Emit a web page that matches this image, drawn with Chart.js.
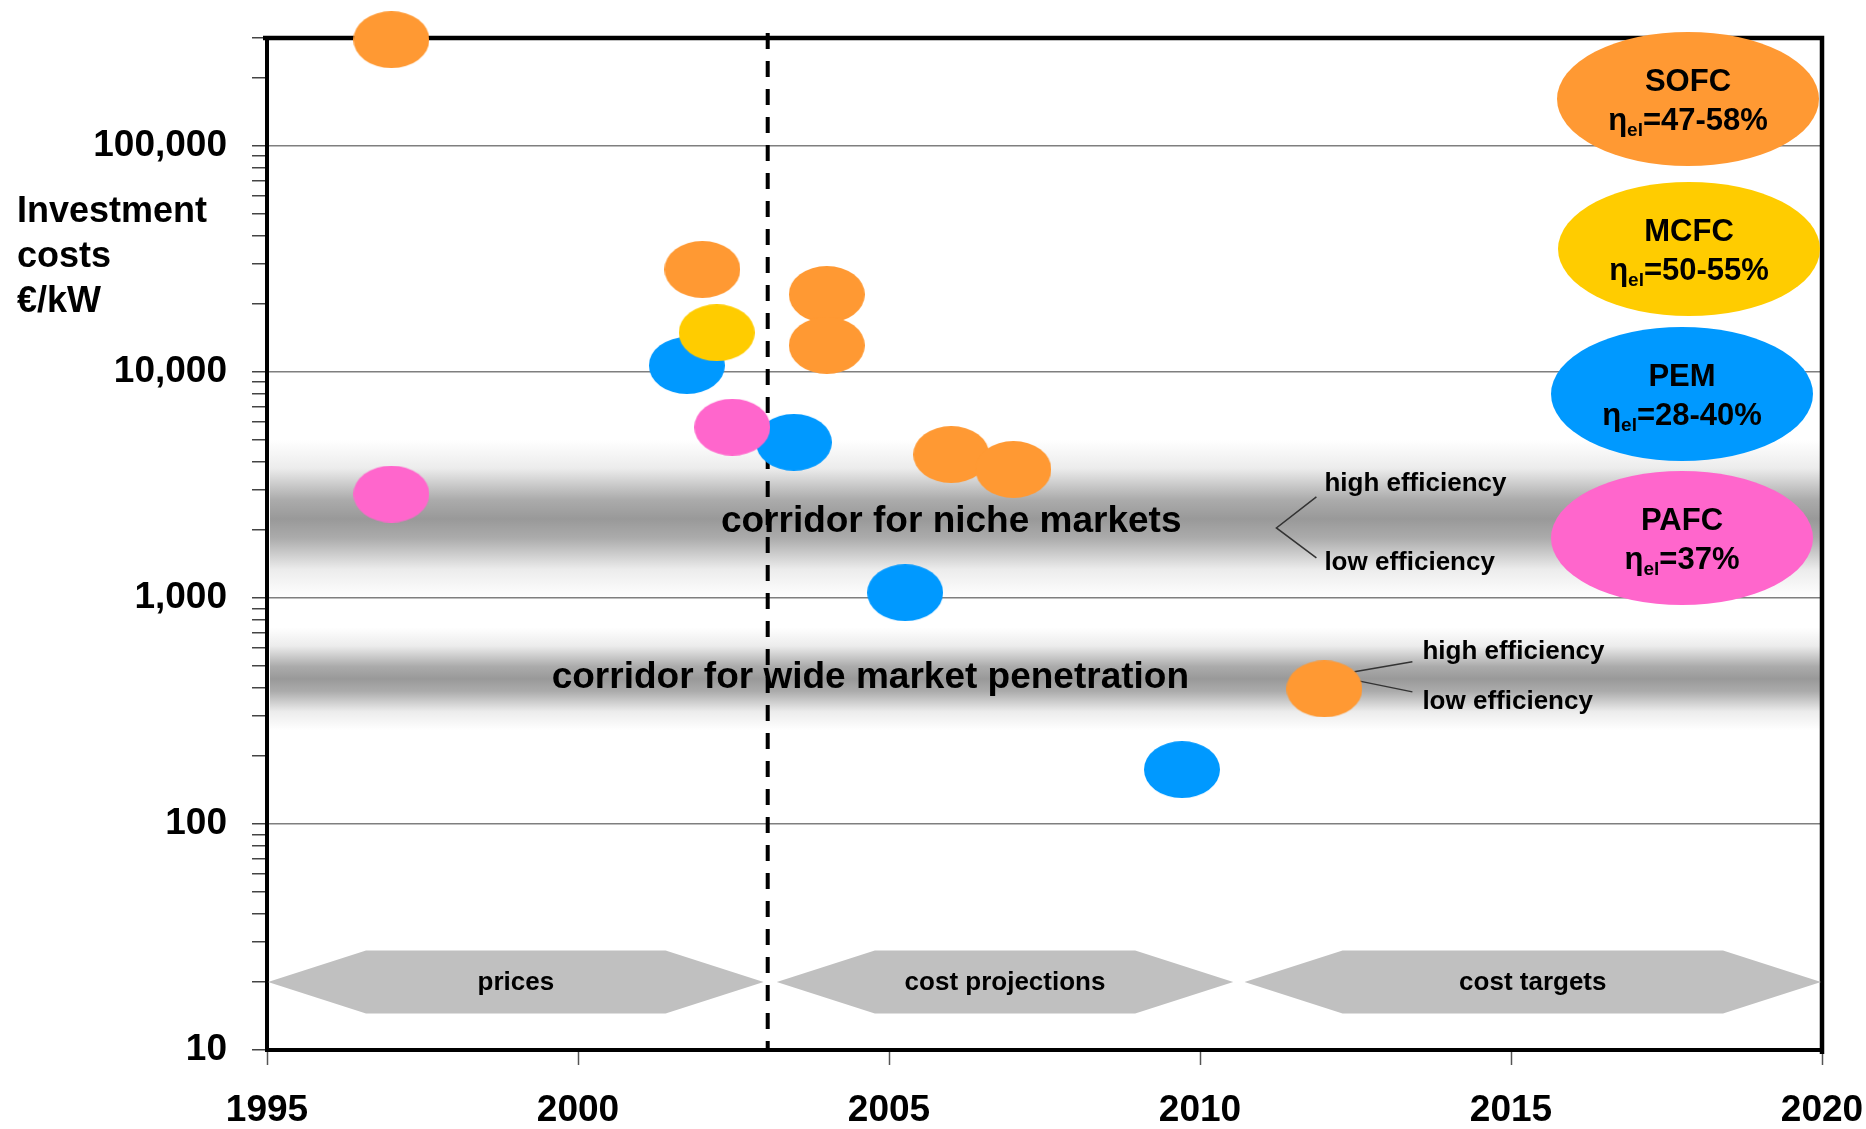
<!DOCTYPE html>
<html>
<head>
<meta charset="utf-8">
<title>Fuel cell investment costs</title>
<script src="https://cdn.jsdelivr.net/npm/chart.js@4.4.1/dist/chart.umd.min.js"></script>
<style>
    html, body { margin: 0; padding: 0; background: #fff; }
    #wrap { width: 1866px; height: 1129px; position: relative; }
</style>
</head>
<body>
<div id="wrap"><canvas id="costChart"></canvas></div>
<script>
// Values (year, investment cost in €/kW)
const sofcYears = [1997, 2002, 2004, 2004, 2006, 2007, 2012];
const sofcCosts = [295000, 28400, 22000, 13100, 4310, 3700, 396];
const mcfcYears = [2002.23];
const mcfcCosts = [14900];
const pafcYears = [1997, 2002.48];
const pafcCosts = [2880, 5690];
const pemYears = [2001.75, 2003.47, 2005.26, 2009.71];
const pemCosts = [10670, 4880, 1055, 174];

const legendNames = ['SOFC', 'MCFC', 'PEM', 'PAFC'];
const legendEff = ['47-58%', '50-55%', '28-40%', '37%'];

const yearTicks = [1995, 2000, 2005, 2010, 2015, 2020];
const costTicks = [10, 100, 1000, 10000, 100000];
const minorSteps = [1, 2, 3, 4, 5, 6, 7, 8, 9];

// corridors: label, lower / upper cost bound, year where the label is centred
const corridorNames = ['corridor for niche markets', 'corridor for wide market penetration'];
const corridorLow = [1000, 260];
const corridorHigh = [5000, 740];
const corridorLabelYear = [2006.0, 2004.7];

// phase arrows along the bottom
const phaseNames = ['prices', 'cost projections', 'cost targets'];
const phaseStart = [1995, 2003.18, 2010.7];
const phaseEnd = [2003, 2010.55, 2020];
const phaseCost = 20;

const todayYear = 2003.05;

// Styling
const FONT = "'Liberation Sans', Arial, Helvetica, sans-serif";
const COLORS = {
    SOFC: '#FF9933',
    MCFC: '#FFCC00',
    PEM: '#0099FF',
    PAFC: '#FF66CC'
};

function ellipseImage(color, w, h) {
    const c = document.createElement('canvas');
    c.width = w;
    c.height = h;
    const g = c.getContext('2d');
    g.fillStyle = color;
    g.beginPath();
    g.ellipse(w / 2, h / 2, w / 2, h / 2, 0, 0, Math.PI * 2);
    g.fill();
    return c;
}

function makeSet(name, years, costs) {
    return {
        label: name,
        data: years.map((yr, i) => ({ x: yr, y: costs[i] })),
        pointStyle: ellipseImage(COLORS[name], 76, 57),
        pointRadius: 30,
        pointHoverRadius: 30,
        clip: false
    };
}

function isDecade(v) {
    return costTicks.some(t => Math.abs(t - v) < 1e-6 * t);
}

// all log tick marks: 1..9 per decade up to the top of the axis
const logTicks = [];
costTicks.forEach(d => minorSteps.forEach(m => logTicks.push(d * m)));
const yMax = 300000;
const yMin = 10;
const allTicks = logTicks.filter(v => v <= yMax);

function font(size, weight) {
    return (weight || 'bold') + ' ' + size + 'px ' + FONT;
}

// Decorations: corridors, frame, phase arrows, labels and legend ellipses
const decorations = {
    id: 'decorations',
    beforeDraw(chart) {
        const { ctx, chartArea: a, scales: { y } } = chart;
        ctx.save();
        ctx.fillStyle = '#ffffff';
        ctx.fillRect(0, 0, chart.width, chart.height);

        corridorNames.forEach((name, i) => {
            const top = y.getPixelForValue(corridorHigh[i]);
            const bot = y.getPixelForValue(corridorLow[i]);
            const grad = ctx.createLinearGradient(0, top, 0, bot);
            grad.addColorStop(0, 'rgba(255,255,255,1)');
            grad.addColorStop(0.18, '#ececec');
            grad.addColorStop(0.38, '#ababab');
            grad.addColorStop(0.5, '#999999');
            grad.addColorStop(0.62, '#ababab');
            grad.addColorStop(0.82, '#ececec');
            grad.addColorStop(1, 'rgba(255,255,255,1)');
            ctx.fillStyle = grad;
            ctx.fillRect(a.left + 3, top, a.right - a.left - 3, bot - top);
        });
        ctx.restore();
    },
    beforeDatasetsDraw(chart) {
        const { ctx, chartArea: a, scales: { x, y } } = chart;
        ctx.save();

        // frame: top and right edges
        ctx.strokeStyle = '#000';
        ctx.lineWidth = 4.5;
        ctx.beginPath();
        ctx.moveTo(a.left - 4, a.top);
        ctx.lineTo(a.right, a.top);
        ctx.lineTo(a.right, a.bottom + 4);
        ctx.stroke();

        // y axis title, horizontal at the top left
        ctx.fillStyle = '#000';
        ctx.font = font(36);
        ctx.textAlign = 'left';
        ctx.textBaseline = 'alphabetic';
        ['Investment', 'costs', '€/kW'].forEach((t, i) => ctx.fillText(t, 17, 222 + i * 45));

        // phase arrows
        const yc = y.getPixelForValue(phaseCost);
        const half = 31.5;
        const inset = 98;
        phaseNames.forEach((name, i) => {
            const x0 = x.getPixelForValue(phaseStart[i]) + 1;
            const x1 = x.getPixelForValue(phaseEnd[i]) - 1;
            ctx.fillStyle = '#C0C0C0';
            ctx.beginPath();
            ctx.moveTo(x0, yc);
            ctx.lineTo(x0 + inset, yc - half);
            ctx.lineTo(x1 - inset, yc - half);
            ctx.lineTo(x1, yc);
            ctx.lineTo(x1 - inset, yc + half);
            ctx.lineTo(x0 + inset, yc + half);
            ctx.closePath();
            ctx.fill();
            ctx.fillStyle = '#000';
            ctx.font = font(26);
            ctx.textAlign = 'center';
            ctx.textBaseline = 'middle';
            ctx.fillText(name, (x0 + x1) / 2, yc + 1);
        });

        // corridor labels
        ctx.font = font(37);
        ctx.textAlign = 'center';
        ctx.textBaseline = 'middle';
        ctx.fillStyle = '#000';
        corridorNames.forEach((name, i) => {
            const cy = y.getPixelForValue(Math.sqrt(corridorLow[i] * corridorHigh[i]));
            ctx.fillText(name, x.getPixelForValue(corridorLabelYear[i]), cy + (i === 0 ? 3 : -1));
        });

        // efficiency notes, niche corridor (bracket)
        ctx.font = font(26);
        ctx.textAlign = 'left';
        const nx = x.getPixelForValue(2012);
        const ny = y.getPixelForValue(Math.sqrt(corridorLow[0] * corridorHigh[0])) + 4;
        ctx.fillText('high efficiency', nx, ny - 39);
        ctx.fillText('low efficiency', nx, ny + 40);
        ctx.strokeStyle = '#333';
        ctx.lineWidth = 1.5;
        ctx.beginPath();
        ctx.moveTo(nx - 8, ny - 26);
        ctx.lineTo(nx - 48, ny + 5);
        ctx.lineTo(nx - 8, ny + 35);
        ctx.stroke();

        // efficiency notes next to the 2012 SOFC target
        const px = x.getPixelForValue(sofcYears[6]);
        const py = y.getPixelForValue(sofcCosts[6]);
        ctx.fillText('high efficiency', px + 98, py - 37);
        ctx.fillText('low efficiency', px + 98, py + 13);
        ctx.beginPath();
        ctx.moveTo(px + 30, py - 17);
        ctx.lineTo(px + 88, py - 27);
        ctx.moveTo(px + 34, py - 8);
        ctx.lineTo(px + 88, py + 3);
        ctx.stroke();

        // dashed "today" line
        const dx = x.getPixelForValue(todayYear);
        ctx.strokeStyle = '#000';
        ctx.lineWidth = 4;
        ctx.setLineDash([16, 12]);
        ctx.beginPath();
        ctx.moveTo(dx, a.top - 5);
        ctx.lineTo(dx, a.bottom);
        ctx.stroke();
        ctx.setLineDash([]);

        ctx.restore();
    },
    afterDraw(chart) {
        const { ctx, chartArea: a } = chart;
        const centersX = [a.right - 134, a.right - 133, a.right - 140, a.right - 140];
        const centersY = [a.top + 61, a.top + 211, a.top + 356, a.top + 500];
        ctx.save();
        legendNames.forEach((name, i) => {
            const cx = centersX[i];
            const cy = centersY[i];
            ctx.fillStyle = COLORS[name];
            ctx.beginPath();
            ctx.ellipse(cx, cy, 131, 67, 0, 0, Math.PI * 2);
            ctx.fill();

            ctx.fillStyle = '#000';
            ctx.textBaseline = 'alphabetic';
            ctx.textAlign = 'center';
            ctx.font = font(31);
            ctx.fillText(name, cx, cy - 8);

            // η with subscript "el"
            ctx.textAlign = 'left';
            ctx.font = font(31);
            const wEta = ctx.measureText('η').width;
            const rest = '=' + legendEff[i];
            const wRest = ctx.measureText(rest).width;
            ctx.font = font(19);
            const wSub = ctx.measureText('el').width;
            let sx = cx - (wEta + wSub + wRest) / 2;
            ctx.font = font(31);
            ctx.fillText('η', sx, cy + 31);
            sx += wEta;
            ctx.font = font(19);
            ctx.fillText('el', sx, cy + 37);
            sx += wSub;
            ctx.font = font(31);
            ctx.fillText(rest, sx, cy + 31);
        });
        ctx.restore();
    }
};

const ctx = document.getElementById('costChart').getContext('2d');
const chart = new Chart(ctx, {
    type: 'scatter',
    data: {
        datasets: [
            makeSet('SOFC', sofcYears, sofcCosts),
            makeSet('MCFC', mcfcYears, mcfcCosts),
            makeSet('PAFC', pafcYears, pafcCosts),
            makeSet('PEM', pemYears, pemCosts)
        ]
    },
    options: {
        responsive: true,
        maintainAspectRatio: false,
        animation: false,
        layout: {
            autoPadding: false,
            padding: { top: 38, right: 44, bottom: 0, left: 0 }
        },
        plugins: {
            legend: { display: false },
            tooltip: { enabled: false }
        },
        scales: {
            x: {
                type: 'linear',
                min: 1995,
                max: 2020,
                afterBuildTicks: scale => {
                    scale.ticks = yearTicks.map(v => ({ value: v }));
                },
                afterFit: scale => {
                    scale.height = 79;
                    // labels may hang over the edges; keep the plot width fixed
                    scale.paddingLeft = 0;
                    scale.paddingRight = 0;
                },
                ticks: {
                    autoSkip: false,
                    maxRotation: 0,
                    padding: 24,
                    color: '#000',
                    font: { family: FONT, size: 37, weight: 'bold' },
                    callback: v => String(v)
                },
                grid: {
                    drawOnChartArea: false,
                    tickLength: 15,
                    tickColor: '#555',
                    tickWidth: 1.5
                },
                border: { color: '#000', width: 4 }
            },
            y: {
                type: 'logarithmic',
                min: yMin,
                max: yMax,
                afterBuildTicks: scale => {
                    scale.ticks = allTicks.map(v => ({ value: v, major: isDecade(v) }));
                },
                afterFit: scale => {
                    scale.width = 267;
                    scale.paddingTop = 0;
                    scale.paddingBottom = 0;
                },
                ticks: {
                    autoSkip: false,
                    padding: 25,
                    color: '#000',
                    font: { family: FONT, size: 37, weight: 'bold' },
                    callback: v => isDecade(v) ? Number(v).toLocaleString('en-US') : ''
                },
                grid: {
                    color: c => (c.tick && isDecade(c.tick.value)) ? '#7f7f7f' : 'rgba(0,0,0,0)',
                    lineWidth: 1.5,
                    tickLength: 15,
                    tickColor: '#444',
                    tickWidth: 1.5
                },
                border: { color: '#000', width: 4 }
            }
        }
    },
    plugins: [decorations]
});
</script>
</body>
</html>
